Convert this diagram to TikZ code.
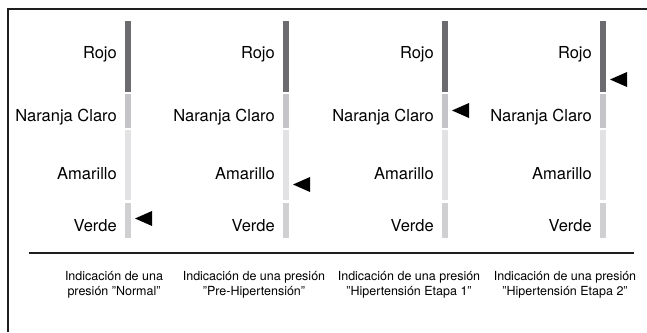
\documentclass[tikz,border=0pt]{standalone}
\usepackage{fontspec}
\setmainfont{TeX Gyre Heros}
\usetikzlibrary{calc}
\definecolor{framec}{HTML}{1E1E20}
\definecolor{rojoc}{HTML}{6C6C70}
\definecolor{naranjac}{HTML}{C5C5C9}
\definecolor{amarilloc}{HTML}{E2E2E4}
\definecolor{verdec}{HTML}{D0D0D3}
\newcommand{\dq}{\char34\relax}
\tikzset{
  lbl/.style={anchor=base east, inner sep=0pt, font=\fontsize{16.5}{18}\selectfont},
  captext/.style={anchor=base, inner sep=0pt, align=center, font=\fontsize{12.5}{14.5}\selectfont},
  pointer/.style={fill=black},
  rule/.style={draw=framec, line width=2pt}
}
\begin{document}
\begin{tikzpicture}[x=1pt,y=1pt]
\useasboundingbox (0,0) rectangle (647,332);
% frame
\coordinate (fa) at (8,0);
\coordinate (fb) at (8,323);
\coordinate (fc) at (647,323);
\draw[rule] (fa) -- (fb) -- (fc);
% separator
\coordinate (sa) at (29,79);
\coordinate (sb) at (634,79);
\draw[rule] (sa) -- (sb);
% columns
\foreach \i/\bx/\ty in {1/125/113.5, 2/283/147.5, 3/442/221.5, 4/600/252.5}{
  \fill[rojoc]     (\bx,311) rectangle ++(6,-71);
  \fill[naranjac]  (\bx,238) rectangle ++(6,-34);
  \fill[amarilloc] (\bx,202) rectangle ++(6,-70);
  \fill[verdec]    (\bx,129) rectangle ++(6,-35);
  \node[lbl] (rojo\i)    at (\bx-8,273) {Rojo};
  \node[lbl] (naranja\i) at (\bx-8,210.5) {Naranja Claro};
  \node[lbl] (amarillo\i) at (\bx-8,152) {Amarillo};
  \node[lbl] (verde\i)   at (\bx-8,100.5) {Verde};
  \coordinate (tip\i) at (\bx+10,\ty);
  \fill[pointer] (tip\i) -- ++(17,7.5) -- ++(0,-15) -- cycle;
}
\node[captext] (c1) at (114,37) {Indicación de una\\presión \dq Normal\dq};
\node[captext] (c2) at (254,37) {Indicación de una presión\\\dq Pre-Hipertensión\dq};
\node[captext] (c3) at (409,37) {Indicación de una presión\\\dq Hipertensión Etapa 1\dq};
\node[captext] (c4) at (565,37) {Indicación de una presión\\\dq Hipertensión Etapa 2\dq};
\end{tikzpicture}
\end{document}
